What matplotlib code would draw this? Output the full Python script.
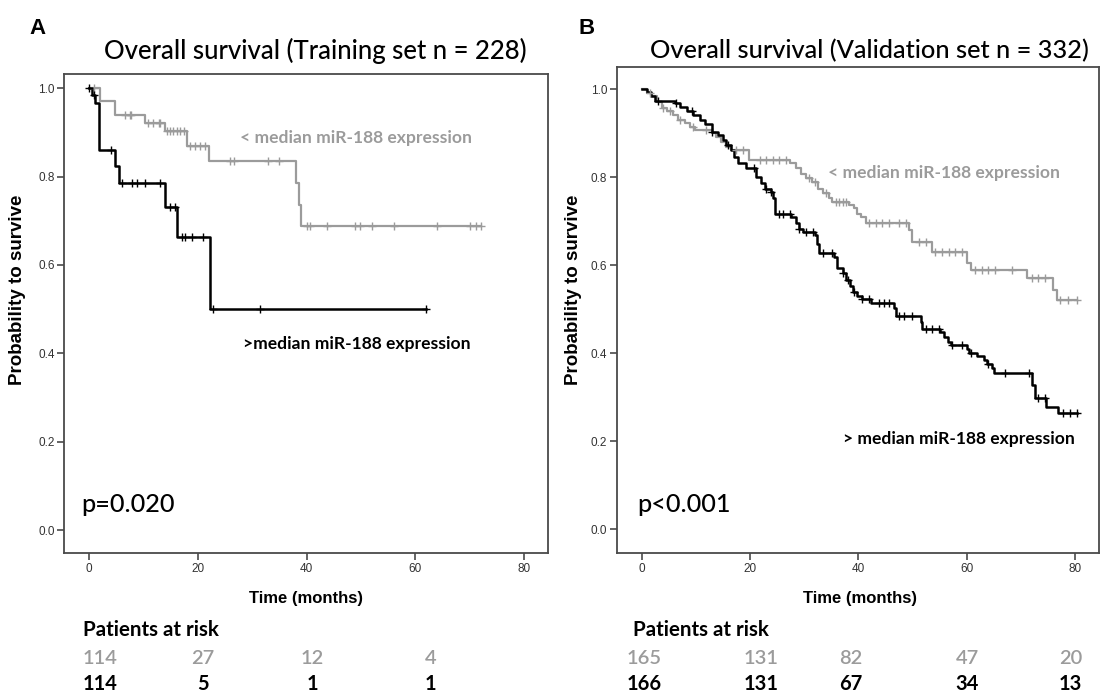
import numpy as np
import matplotlib
matplotlib.use("Agg")
import matplotlib.pyplot as plt
from matplotlib.ticker import FormatStrFormatter

# ---- Training set (panel A) ----
a_low_t = [2.0, 4.8, 10.3, 14.0, 18.0, 22.0, 38.1, 38.7, 38.9]
a_low_s = [0.970, 0.940, 0.921, 0.902, 0.869, 0.834, 0.785, 0.736, 0.688]
a_low_end = 72.1
a_low_cens = [1.0, 6.6, 7.5, 7.8, 10.9, 11.8, 12.8, 13.1, 14.3, 14.9, 15.5, 16.1,
              16.8, 17.4, 18.6, 19.5, 20.4, 21.4, 26.0, 26.6, 33.0, 35.0, 40.0,
              40.7, 43.8, 49.0, 49.9, 52.1, 56.0, 64.0, 70.0, 71.1, 72.1]

a_high_t = [0.5, 1.1, 1.9, 4.8, 5.6, 14.0, 16.2, 22.3]
a_high_s = [0.985, 0.966, 0.860, 0.823, 0.785, 0.732, 0.664, 0.500]
a_high_end = 61.9
a_high_cens = [0.0, 0.9, 4.0, 6.0, 7.9, 8.8, 10.3, 13.1, 14.9, 15.8, 17.1, 17.7,
               18.9, 21.0, 22.8, 31.4, 61.9]

# ---- Validation set (panel B) ----
b_low_t = [0.9, 1.8, 2.8, 3.7, 4.6, 5.8, 6.7, 8.0, 8.9, 9.8, 12.9, 13.8, 14.7,
           15.6, 16.5, 19.9, 27.3, 28.5, 29.4, 30.3, 31.5, 32.5, 33.4, 34.6,
           35.2, 38.3, 39.2, 39.8, 40.4, 41.4, 49.3, 49.9, 53.6, 60.0, 60.7,
           71.1, 76.0, 76.6]
b_low_s = [0.990, 0.983, 0.971, 0.956, 0.949, 0.941, 0.930, 0.922, 0.914, 0.907,
           0.899, 0.892, 0.880, 0.869, 0.861, 0.839, 0.831, 0.820, 0.808, 0.797,
           0.789, 0.774, 0.763, 0.752, 0.744, 0.736, 0.729, 0.717, 0.710, 0.695,
           0.680, 0.653, 0.630, 0.604, 0.589, 0.570, 0.543, 0.520]
b_low_end = 80.3
b_low_cens = [1.5, 4.0, 5.2, 7.0, 9.5, 11.9, 17.5, 18.7, 21.8, 22.9, 24.2, 25.4,
              26.6, 30.9, 31.9, 34.0, 35.8, 36.4, 37.1, 37.7, 42.0, 43.2, 44.4,
              45.6, 47.5, 48.7, 51.2, 52.4, 54.2, 55.4, 56.7, 57.9, 59.1, 61.6,
              62.8, 64.0, 65.2, 68.3, 72.0, 73.2, 74.4, 77.2, 78.7, 80.3]

b_high_t = [0.9, 1.8, 2.4, 6.1, 7.0, 8.3, 9.5, 10.7, 11.6, 12.9, 14.1, 15.0, 15.6,
            16.5, 17.0, 17.8, 19.3, 21.1, 22.1, 22.7, 23.9, 24.2, 24.7, 27.6,
            28.5, 29.1, 29.7, 31.9, 32.3, 32.8, 35.5, 36.1, 37.1, 37.7, 38.4,
            39.0, 39.8, 40.7, 42.3, 46.6, 46.9, 51.5, 51.8, 55.1, 55.8, 56.5,
            57.0, 60.0, 60.5, 61.9, 63.1, 63.7, 64.6, 65.1, 72.0, 72.6, 74.7, 76.9]
b_high_s = [0.994, 0.983, 0.973, 0.968, 0.960, 0.951, 0.941, 0.930, 0.920, 0.903,
            0.895, 0.884, 0.873, 0.861, 0.845, 0.831, 0.820, 0.801, 0.786, 0.774,
            0.767, 0.752, 0.717, 0.710, 0.695, 0.683, 0.676, 0.668, 0.649, 0.628,
            0.619, 0.593, 0.581, 0.566, 0.552, 0.539, 0.530, 0.522, 0.514, 0.502,
            0.484, 0.471, 0.454, 0.448, 0.437, 0.426, 0.418, 0.410, 0.401, 0.393,
            0.385, 0.375, 0.366, 0.356, 0.327, 0.297, 0.278, 0.263]
b_high_end = 80.3
b_high_cens = [3.1, 6.4, 9.2, 12.9, 15.9, 20.8, 22.9, 23.9, 25.4, 26.0, 27.3, 29.1,
               30.3, 31.6, 33.4, 35.2, 37.1, 38.0, 39.2, 40.7, 42.0, 43.8, 44.7,
               45.6, 47.5, 48.4, 49.9, 52.4, 53.6, 54.8, 57.3, 59.1, 60.7, 64.0,
               67.1, 71.4, 73.2, 74.4, 77.8, 79.0, 80.3]

# ---- Number at risk ----
a_risk_low = ["114", "27", "12", "4"]
a_risk_high = ["114", "5", "1", "1"]
b_risk_low = ["165", "131", "82", "47", "20"]
b_risk_high = ["166", "131", "67", "34", "13"]

titles = ["Overall survival (Training set n = 228)",
          "Overall survival (Validation set n = 332)"]
p_values = ["p=0.020", "p<0.001"]

GREY = "#9b9b9b"
BLACK = "#000000"
SPINE = "#4a4a4a"
CAL = ["Lato", "DejaVu Sans"]
ARIAL = ["Liberation Sans", "DejaVu Sans"]

W, H = 1100, 695
fig = plt.figure(figsize=(11, 6.95), dpi=100)


def box(l, t, r, b):
    return [l / W, 1 - b / H, (r - l) / W, (b - t) / H]


def ftext(x, y, s, **kw):
    return fig.text(x / W, 1 - y / H, s, **kw)


def km_curve(ax, t, s, end, censor, color, lw):
    tt = np.concatenate([[0.0], t, [end]])
    ss = np.concatenate([[1.0], s, [s[-1]]])
    ax.step(tt, ss, where="post", color=color, lw=lw, zorder=3)
    c = np.asarray(censor, dtype=float)
    idx = np.clip(np.searchsorted(tt, c, side="right") - 1, 0, len(ss) - 1)
    ax.plot(c, ss[idx], ls="none", marker="+", ms=6, mew=1.0, color=color,
            zorder=4)


axA = fig.add_axes(box(64.3, 74, 548, 553))
axB = fig.add_axes(box(617, 67, 1099, 553))
axA.set_ylim(-0.052, 1.032)
axB.set_ylim(-0.054, 1.05)

for ax in (axA, axB):
    ax.set_xlim(-4.55, 84.4)
    ax.set_xticks([0, 20, 40, 60, 80])
    ax.set_yticks([0.0, 0.2, 0.4, 0.6, 0.8, 1.0])
    ax.yaxis.set_major_formatter(FormatStrFormatter("%.1f"))
    for sp in ax.spines.values():
        sp.set_color(SPINE)
        sp.set_linewidth(1.3)
    ax.tick_params(direction="out", length=5, width=1.2, color=SPINE,
                   labelsize=8.5, labelcolor="#333333", pad=2)
    for lab in ax.get_xticklabels() + ax.get_yticklabels():
        lab.set_family(ARIAL)

km_curve(axA, a_low_t, a_low_s, a_low_end, a_low_cens, GREY, 1.6)
km_curve(axA, a_high_t, a_high_s, a_high_end, a_high_cens, BLACK, 1.8)
km_curve(axB, b_low_t, b_low_s, b_low_end, b_low_cens, GREY, 1.6)
km_curve(axB, b_high_t, b_high_s, b_high_end, b_high_cens, BLACK, 1.8)

# panel letters and titles
ftext(37, 28, "A", family=ARIAL, weight="bold", size=16, ha="center", va="center")
ftext(587, 28, "B", family=ARIAL, weight="bold", size=16, ha="center", va="center")
ftext(315, 51, titles[0], family=CAL, weight="medium", size=18.5,
      ha="center", va="center")
ftext(869, 51, titles[1], family=CAL, weight="medium", size=18.3,
      ha="center", va="center")

# axis labels
for xc, yc in ((18, 290), (573, 290)):
    ftext(xc, yc, "Probability to survive", family=ARIAL, weight="bold",
          size=13.5, rotation=90, ha="center", va="center")
for xc in (306, 860):
    ftext(xc, 599, "Time (months)", family=ARIAL, weight="bold", size=12,
          ha="center", va="center")

# curve labels
lab_kw = dict(family=CAL, weight="bold", size=12.6, ha="left", va="center")
ftext(240, 138, "< median miR-188 expression", color=GREY, **lab_kw)
ftext(243, 344, ">median miR-188 expression", color=BLACK, **lab_kw)
ftext(828, 173, "< median miR-188 expression", color=GREY, **lab_kw)
ftext(843, 439, "> median miR-188 expression", color=BLACK, **lab_kw)

# log-rank p values
ftext(81, 504, p_values[0], family=CAL, weight="medium", size=18.2,
      ha="left", va="center")
ftext(637, 504, p_values[1], family=CAL, weight="medium", size=18.2,
      ha="left", va="center")

# patients at risk
a_risk_x = [2.0, 21.0, 41.0, 62.8]
b_risk_x = [0.4, 22.0, 38.6, 60.1, 79.1]
for ax, xl, low, high, xs in ((axA, 83, a_risk_low, a_risk_high, a_risk_x),
                              (axB, 633, b_risk_low, b_risk_high, b_risk_x)):
    ftext(xl, 630, "Patients at risk", family=CAL, weight="bold", size=14.8,
          ha="left", va="center")
    for xv, lo, hi in zip(xs, low, high):
        xp = ax.transData.transform((xv, 0))[0] / fig.dpi / fig.get_figwidth()
        fig.text(xp, 1 - 658 / H, lo, family=CAL, weight="semibold", size=14.5,
                 color=GREY, ha="center", va="center")
        fig.text(xp, 1 - 684 / H, hi, family=CAL, weight="bold", size=14.5,
                 color=BLACK, ha="center", va="center")

fig.savefig("out.png", dpi=100)
